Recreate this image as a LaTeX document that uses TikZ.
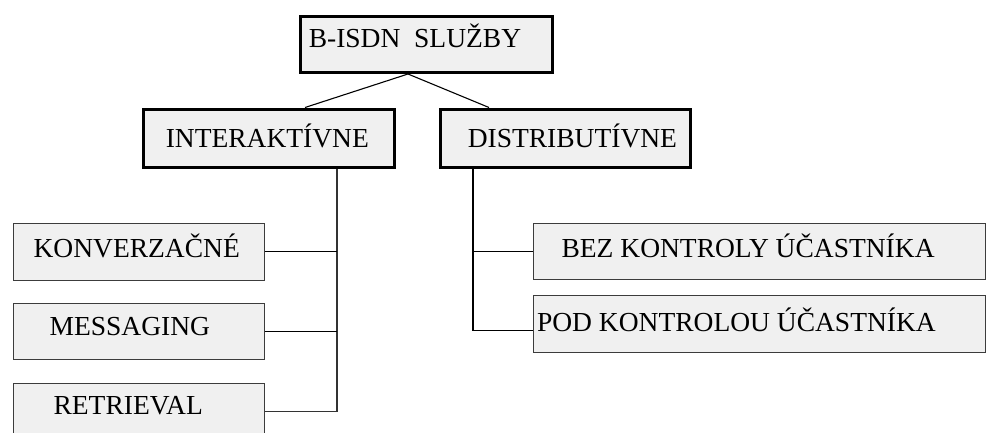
\documentclass[tikz,border=0pt]{standalone}
\usepackage{fontspec}
\setmainfont{Liberation Serif}
\definecolor{boxfill}{RGB}{240,240,240}
\definecolor{boxline}{RGB}{60,60,60}
% fixed-width, left-aligned label inside a box
\newcommand\lbltext[2]{\makebox[#1pt][l]{#2}}
\begin{document}
\begin{tikzpicture}[x=1pt,y=-1pt,
  box/.style={draw=boxline, line width=1.2pt, fill=boxfill, anchor=north west,
    inner ysep=0pt, font=\fontsize{27.5}{33}\selectfont},
  heavy/.style={box, draw=black, line width=3.5pt},
  conn/.style={draw=black, line width=1.1pt}]
\clip (0,0) rectangle (986,432);
\useasboundingbox (0,0) rectangle (986,432);

% top level
\node[heavy, inner xsep=8.5pt, text height=31.5pt, text depth=24.5pt]
  (bis) at (298.5,14.5) {\lbltext{235}{B-ISDN\ \ SLUŽBY}};

% second level
\node[heavy, inner xsep=22.5pt, text height=38.5pt, text depth=19.5pt]
  (int) at (141.5,107.5) {\lbltext{206}{INTERAKTÍVNE}};
\node[heavy, inner xsep=27.5pt, text height=38.5pt, text depth=19.5pt]
  (dis) at (438.5,107.5) {\lbltext{195}{DISTRIBUTÍVNE}};

% interactive services
\node[box, inner xsep=20.5pt, text height=34.5pt, text depth=22.5pt]
  (konv) at (12.5,222.5) {\lbltext{210}{KONVERZAČNÉ}};
\node[box, inner xsep=36.5pt, text height=32.5pt, text depth=23.5pt]
  (mess) at (12.5,302.5) {\lbltext{178}{MESSAGING}};
\node[box, inner xsep=40.5pt, text height=31.5pt, text depth=24.5pt]
  (retr) at (12.5,382.5) {\lbltext{170}{RETRIEVAL}};

% distributive services
\node[box, inner xsep=28.5pt, text height=34.5pt, text depth=21.5pt]
  (bez) at (532.5,222.5) {\lbltext{395}{BEZ KONTROLY ÚČASTNÍKA}};
\node[box, inner xsep=4pt, text height=36.5pt, text depth=20.5pt]
  (pod) at (532.5,294.5) {\lbltext{444}{POD KONTROLOU ÚČASTNÍKA}};

% connectors
\coordinate (apex) at ([xshift=109.5pt]bis.south west);
\draw[conn] (apex) -- ([xshift=163.5pt]int.north west);
\draw[conn] (apex) -- ([xshift=50.5pt]dis.north west);

\coordinate (itrunk) at ([xshift=195.5pt]int.south west);
\draw[conn, draw=black!80] (itrunk) |- (retr.east);
\draw[conn] (konv.east) -- (konv.east -| itrunk);
\draw[conn] (mess.east) -- (mess.east -| itrunk);

\coordinate (dtrunk) at ([xshift=34.5pt]dis.south west);
\draw[conn] (dtrunk) |- ([yshift=-7pt]pod.west);
\draw[conn] (bez.west) -- (bez.west -| dtrunk);
\end{tikzpicture}
\end{document}
